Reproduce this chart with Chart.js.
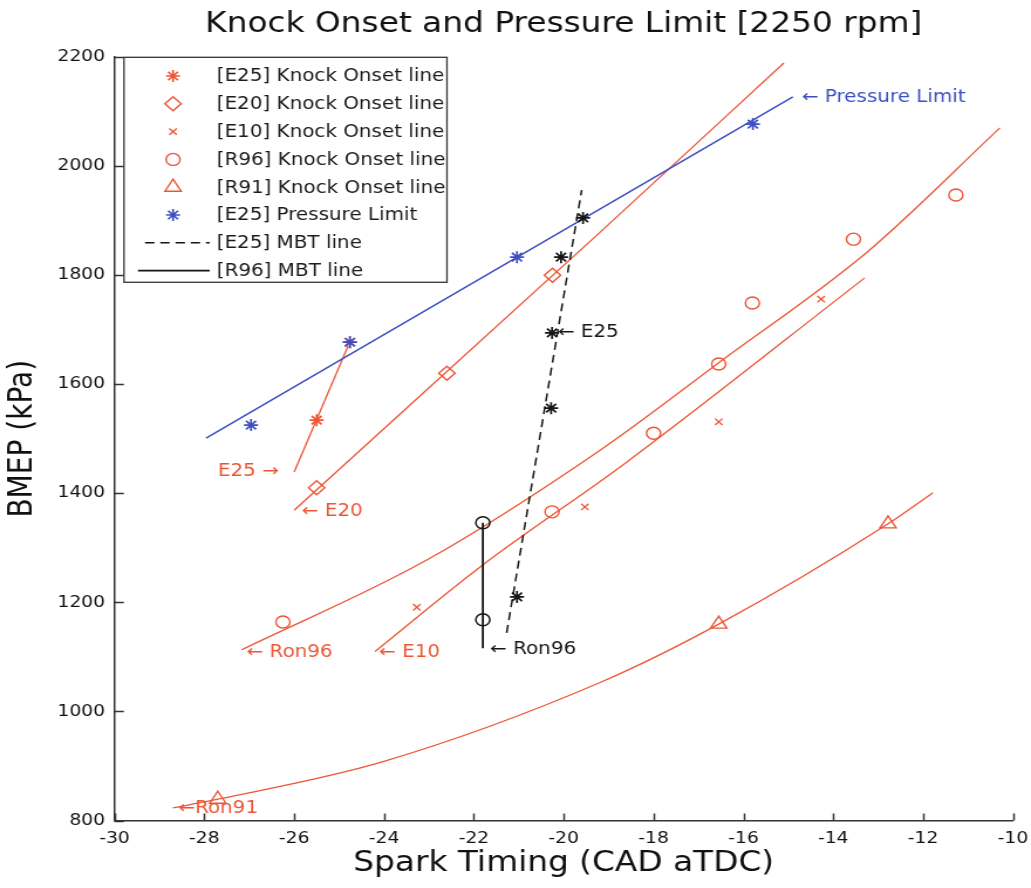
<!DOCTYPE html>
<html>
<head>
<meta charset="utf-8">
<title>Knock Onset and Pressure Limit</title>
<script src="https://cdn.jsdelivr.net/npm/chart.js@4.4.0/dist/chart.umd.min.js"></script>
<style>
  body { margin: 0; background: #fff; }
  canvas { display: block; }
</style>
</head>
<body>
<!-- drawn 880 wide and stretched to 1031, the original figure is stretched the same way -->
<canvas id="knock" width="880" height="888" style="width:1031px;height:888px"></canvas>
<script>
// spark timing (CAD aTDC) and BMEP (kPa)
var e25KnockX = [-25.5, -24.76];
var e25KnockY = [1534, 1677];
var e25KnockFitX = [-26.0, -24.8];
var e25KnockFitY = [1439, 1670];

var e20KnockX = [-25.5, -22.6, -20.25];
var e20KnockY = [1410, 1620, 1800];
var e20FitX = [-26.0, -19.2, -15.1];
var e20FitY = [1369, 1878, 2189];

var e10KnockX = [-23.27, -19.53, -16.55, -14.27];
var e10KnockY = [1191, 1375, 1531, 1756];
var e10FitX = [-24.2, -21.86, -18.6, -13.3];
var e10FitY = [1110, 1265, 1457, 1795];

var r96KnockX = [-26.25, -20.26, -18.0, -16.55, -15.8, -13.55, -11.27];
var r96KnockY = [1164, 1366, 1510, 1637, 1749, 1866, 1947];
var r96FitX = [-27.17, -23.04, -19.19, -16.57, -13.25, -10.29];
var r96FitY = [1113, 1278, 1479, 1638, 1842, 2070];

var r91KnockX = [-27.7, -16.55, -12.78];
var r91KnockY = [839, 1160, 1344];
var r91FitX = [-28.7, -27.7, -24.02, -19.19, -16.55, -12.78, -11.78];
var r91FitY = [823, 839, 908, 1053, 1160, 1344, 1401];

var plX = [-26.96, -24.76, -21.04, -15.79];
var plY = [1525, 1677, 1833, 2077];
var plFitX = [-27.96, -14.9];
var plFitY = [1501, 2127];

var e25MbtX = [-21.04, -20.28, -20.26, -20.06, -19.57];
var e25MbtY = [1210, 1556, 1694, 1833, 1905];
var e25MbtLineX = [-21.27, -19.6];
var e25MbtLineY = [1144, 1956];

var r96MbtX = [-21.8, -21.8];
var r96MbtY = [1168, 1346];
var r96MbtLineX = [-21.8, -21.8];
var r96MbtLineY = [1116, 1346];

var xTicks = [-30, -28, -26, -24, -22, -20, -18, -16, -14, -12, -10];
var yTicks = [800, 1000, 1200, 1400, 1600, 1800, 2000, 2200];

// little arrow notes next to the curves
var noteText = ['E25 \u2192', '\u2190 E20', '\u2190 Ron96', '\u2190 E10', '\u2190 Ron96', '\u2190Ron91', '\u2190 Pressure Limit', '\u2190 E25'];
var noteX = [-27.7, -25.83, -27.06, -24.11, -21.64, -28.58, -14.7, -20.13];
var noteY = [1439, 1366, 1107, 1107, 1114, 821, 2126, 1694];
var noteColor = ['red', 'red', 'red', 'red', 'black', 'red', 'blue', 'black'];

var legendLabels = ['[E25] Knock Onset line', '[E20] Knock Onset line', '[E10] Knock Onset line',
  '[R96] Knock Onset line', '[R91] Knock Onset line', '[E25] Pressure Limit', '[E25] MBT line', '[R96] MBT line'];

var RED = '#ec5636';
var BLUE = '#3c4fc2';
var BLACK = '#151515';
var colors = { red: RED, blue: BLUE, black: BLACK };
var FONT = '"DejaVu Sans", "Liberation Sans", sans-serif';

function pts(xs, ys) {
  return xs.map(function (x, i) { return { x: x, y: ys[i] }; });
}

function markers(label, xs, ys, style, color, r, bw) {
  return {
    label: label,
    data: pts(xs, ys),
    showLine: false,
    pointStyle: style,
    pointRadius: r,
    pointHoverRadius: r,
    pointBorderColor: color,
    pointBackgroundColor: 'rgba(0,0,0,0)',
    pointBorderWidth: bw || 1.3
  };
}

function fitLine(label, xs, ys, color, dash, w) {
  return {
    label: label,
    data: pts(xs, ys),
    showLine: true,
    pointRadius: 0,
    pointHoverRadius: 0,
    borderColor: color,
    borderWidth: w || 1.3,
    borderDash: dash || [],
    cubicInterpolationMode: 'monotone',
    fill: false
  };
}

// dataset 0 is drawn last, so markers go first
var datasets = [
  markers('[E25] Pressure Limit', plX, plY, 'star', BLUE, 6, 1.7),
  markers('[E25] Knock Onset line', e25KnockX, e25KnockY, 'star', RED, 6, 1.7),
  markers('[E20] Knock Onset line', e20KnockX, e20KnockY, 'rectRot', RED, 7, 1.4),
  markers('[E10] Knock Onset line', e10KnockX, e10KnockY, 'crossRot', RED, 4.5),
  markers('[R96] Knock Onset line', r96KnockX, r96KnockY, 'circle', RED, 6, 1.4),
  markers('[R91] Knock Onset line', r91KnockX, r91KnockY, 'triangle', RED, 8, 1.4),
  markers('e25 mbt pts', e25MbtX, e25MbtY, 'star', BLACK, 6, 1.7),
  markers('r96 mbt pts', r96MbtX, r96MbtY, 'circle', BLACK, 6, 1.5),
  fitLine('[E25] MBT line', e25MbtLineX, e25MbtLineY, BLACK, [8, 5], 1.5),
  fitLine('[R96] MBT line', r96MbtLineX, r96MbtLineY, BLACK, [], 1.8),
  fitLine('pl fit', plFitX, plFitY, BLUE, [], 1.5),
  fitLine('e25 fit', e25KnockFitX, e25KnockFitY, RED),
  fitLine('e20 fit', e20FitX, e20FitY, RED),
  fitLine('e10 fit', e10FitX, e10FitY, RED),
  fitLine('r96 fit', r96FitX, r96FitY, RED),
  fitLine('r91 fit', r91FitX, r91FitY, RED)
];

var extras = {
  id: 'extras',
  afterDraw: function (chart) {
    var ctx = chart.ctx;
    var xs = chart.scales.x, ys = chart.scales.y;
    var area = chart.chartArea;
    ctx.save();

    // matlab style ticks, pointing into the axes
    ctx.strokeStyle = '#333';
    ctx.lineWidth = 1.5;
    ctx.beginPath();
    xTicks.forEach(function (v) {
      var px = Math.round(xs.getPixelForValue(v)) + 0.5;
      ctx.moveTo(px, area.bottom);
      ctx.lineTo(px, area.bottom - 7);
    });
    yTicks.forEach(function (v) {
      var py = Math.round(ys.getPixelForValue(v)) + 0.5;
      ctx.moveTo(area.left, py);
      ctx.lineTo(area.left + 8, py);
    });
    ctx.stroke();

    // notes
    ctx.font = '17px ' + FONT;
    ctx.textBaseline = 'middle';
    ctx.textAlign = 'left';
    for (var i = 0; i < noteText.length; i++) {
      ctx.fillStyle = colors[noteColor[i]];
      ctx.fillText(noteText[i], xs.getPixelForValue(noteX[i]), ys.getPixelForValue(noteY[i]));
    }

    // legend box, top left inside the axes
    var bx = 105.8, by = 57.3, bw = 275.7, bh = 225;
    ctx.fillStyle = '#fff';
    ctx.fillRect(bx, by, bw, bh);
    ctx.strokeStyle = '#333';
    ctx.lineWidth = 1.3;
    ctx.strokeRect(bx, by, bw, bh);

    var rowY = 76, dy = 27.8;
    legendLabels.forEach(function (lab, k) {
      var ds = chart.data.datasets.find(function (d) { return d.label === lab; });
      var y = rowY + k * dy;
      if (ds.showLine) {
        ctx.strokeStyle = ds.borderColor;
        ctx.lineWidth = ds.borderWidth;
        ctx.setLineDash(ds.borderDash);
        ctx.beginPath();
        ctx.moveTo(ds.borderDash.length ? 123.8 : 117.8, y);
        ctx.lineTo(179, y);
        ctx.stroke();
        ctx.setLineDash([]);
      } else {
        ctx.strokeStyle = ds.pointBorderColor;
        ctx.fillStyle = 'rgba(0,0,0,0)';
        ctx.lineWidth = ds.pointBorderWidth;
        Chart.helpers.drawPoint(ctx, {
          pointStyle: ds.pointStyle,
          radius: ds.pointRadius,
          rotation: 0,
          borderWidth: ds.pointBorderWidth
        }, 147.7, y);
      }
      ctx.fillStyle = '#1a1a1a';
      ctx.font = '17px ' + FONT;
      ctx.textBaseline = 'middle';
      ctx.fillText(lab, 185, y + 1);
    });
    ctx.restore();
  }
};

var chart = new Chart(document.getElementById('knock'), {
  type: 'scatter',
  data: { datasets: datasets },
  plugins: [extras],
  options: {
    responsive: false,
    animation: false,
    devicePixelRatio: 1,
    layout: { padding: { top: 0, left: 0, bottom: 0, right: 15.4 } },
    plugins: {
      legend: { display: false },
      tooltip: { enabled: false },
      title: {
        display: true,
        fullSize: false,
        text: 'Knock Onset and Pressure Limit [2250 rpm]',
        color: '#111',
        font: { family: FONT, size: 28, weight: 'normal' },
        padding: { top: 8.2, bottom: 15.2 }
      }
    },
    scales: {
      x: {
        type: 'linear',
        min: -30,
        max: -10,
        afterBuildTicks: function (s) { s.ticks = xTicks.map(function (v) { return { value: v }; }); },
        afterFit: function (s) { s.height = 67.5; s.paddingLeft = 0; s.paddingRight = 0; },
        border: { display: true, color: '#333', width: 1.5 },
        grid: { display: false, drawTicks: false },
        ticks: {
          autoSkip: false,
          maxRotation: 0,
          padding: 9,
          color: '#111',
          font: { family: FONT, size: 16 },
          callback: function (v) { return String(v); }
        },
        title: {
          display: true,
          text: 'Spark Timing (CAD aTDC)',
          color: '#111',
          font: { family: FONT, size: 28 },
          padding: { top: 0, bottom: 7.7 }
        }
      },
      y: {
        type: 'linear',
        min: 800,
        max: 2200,
        afterBuildTicks: function (s) { s.ticks = yTicks.map(function (v) { return { value: v }; }); },
        afterFit: function (s) { s.width = 97.7; s.paddingTop = 0; s.paddingBottom = 0; },
        border: { display: true, color: '#333', width: 1.5 },
        grid: { display: false, drawTicks: false },
        ticks: {
          autoSkip: false,
          padding: 8,
          color: '#111',
          font: { family: FONT, size: 16 },
          callback: function (v) { return String(v); }
        },
        title: {
          display: true,
          text: 'BMEP (kPa)',
          color: '#111',
          font: { family: FONT, size: 28 },
          padding: { top: 3, bottom: 0 }
        }
      }
    }
  }
});
</script>
</body>
</html>
